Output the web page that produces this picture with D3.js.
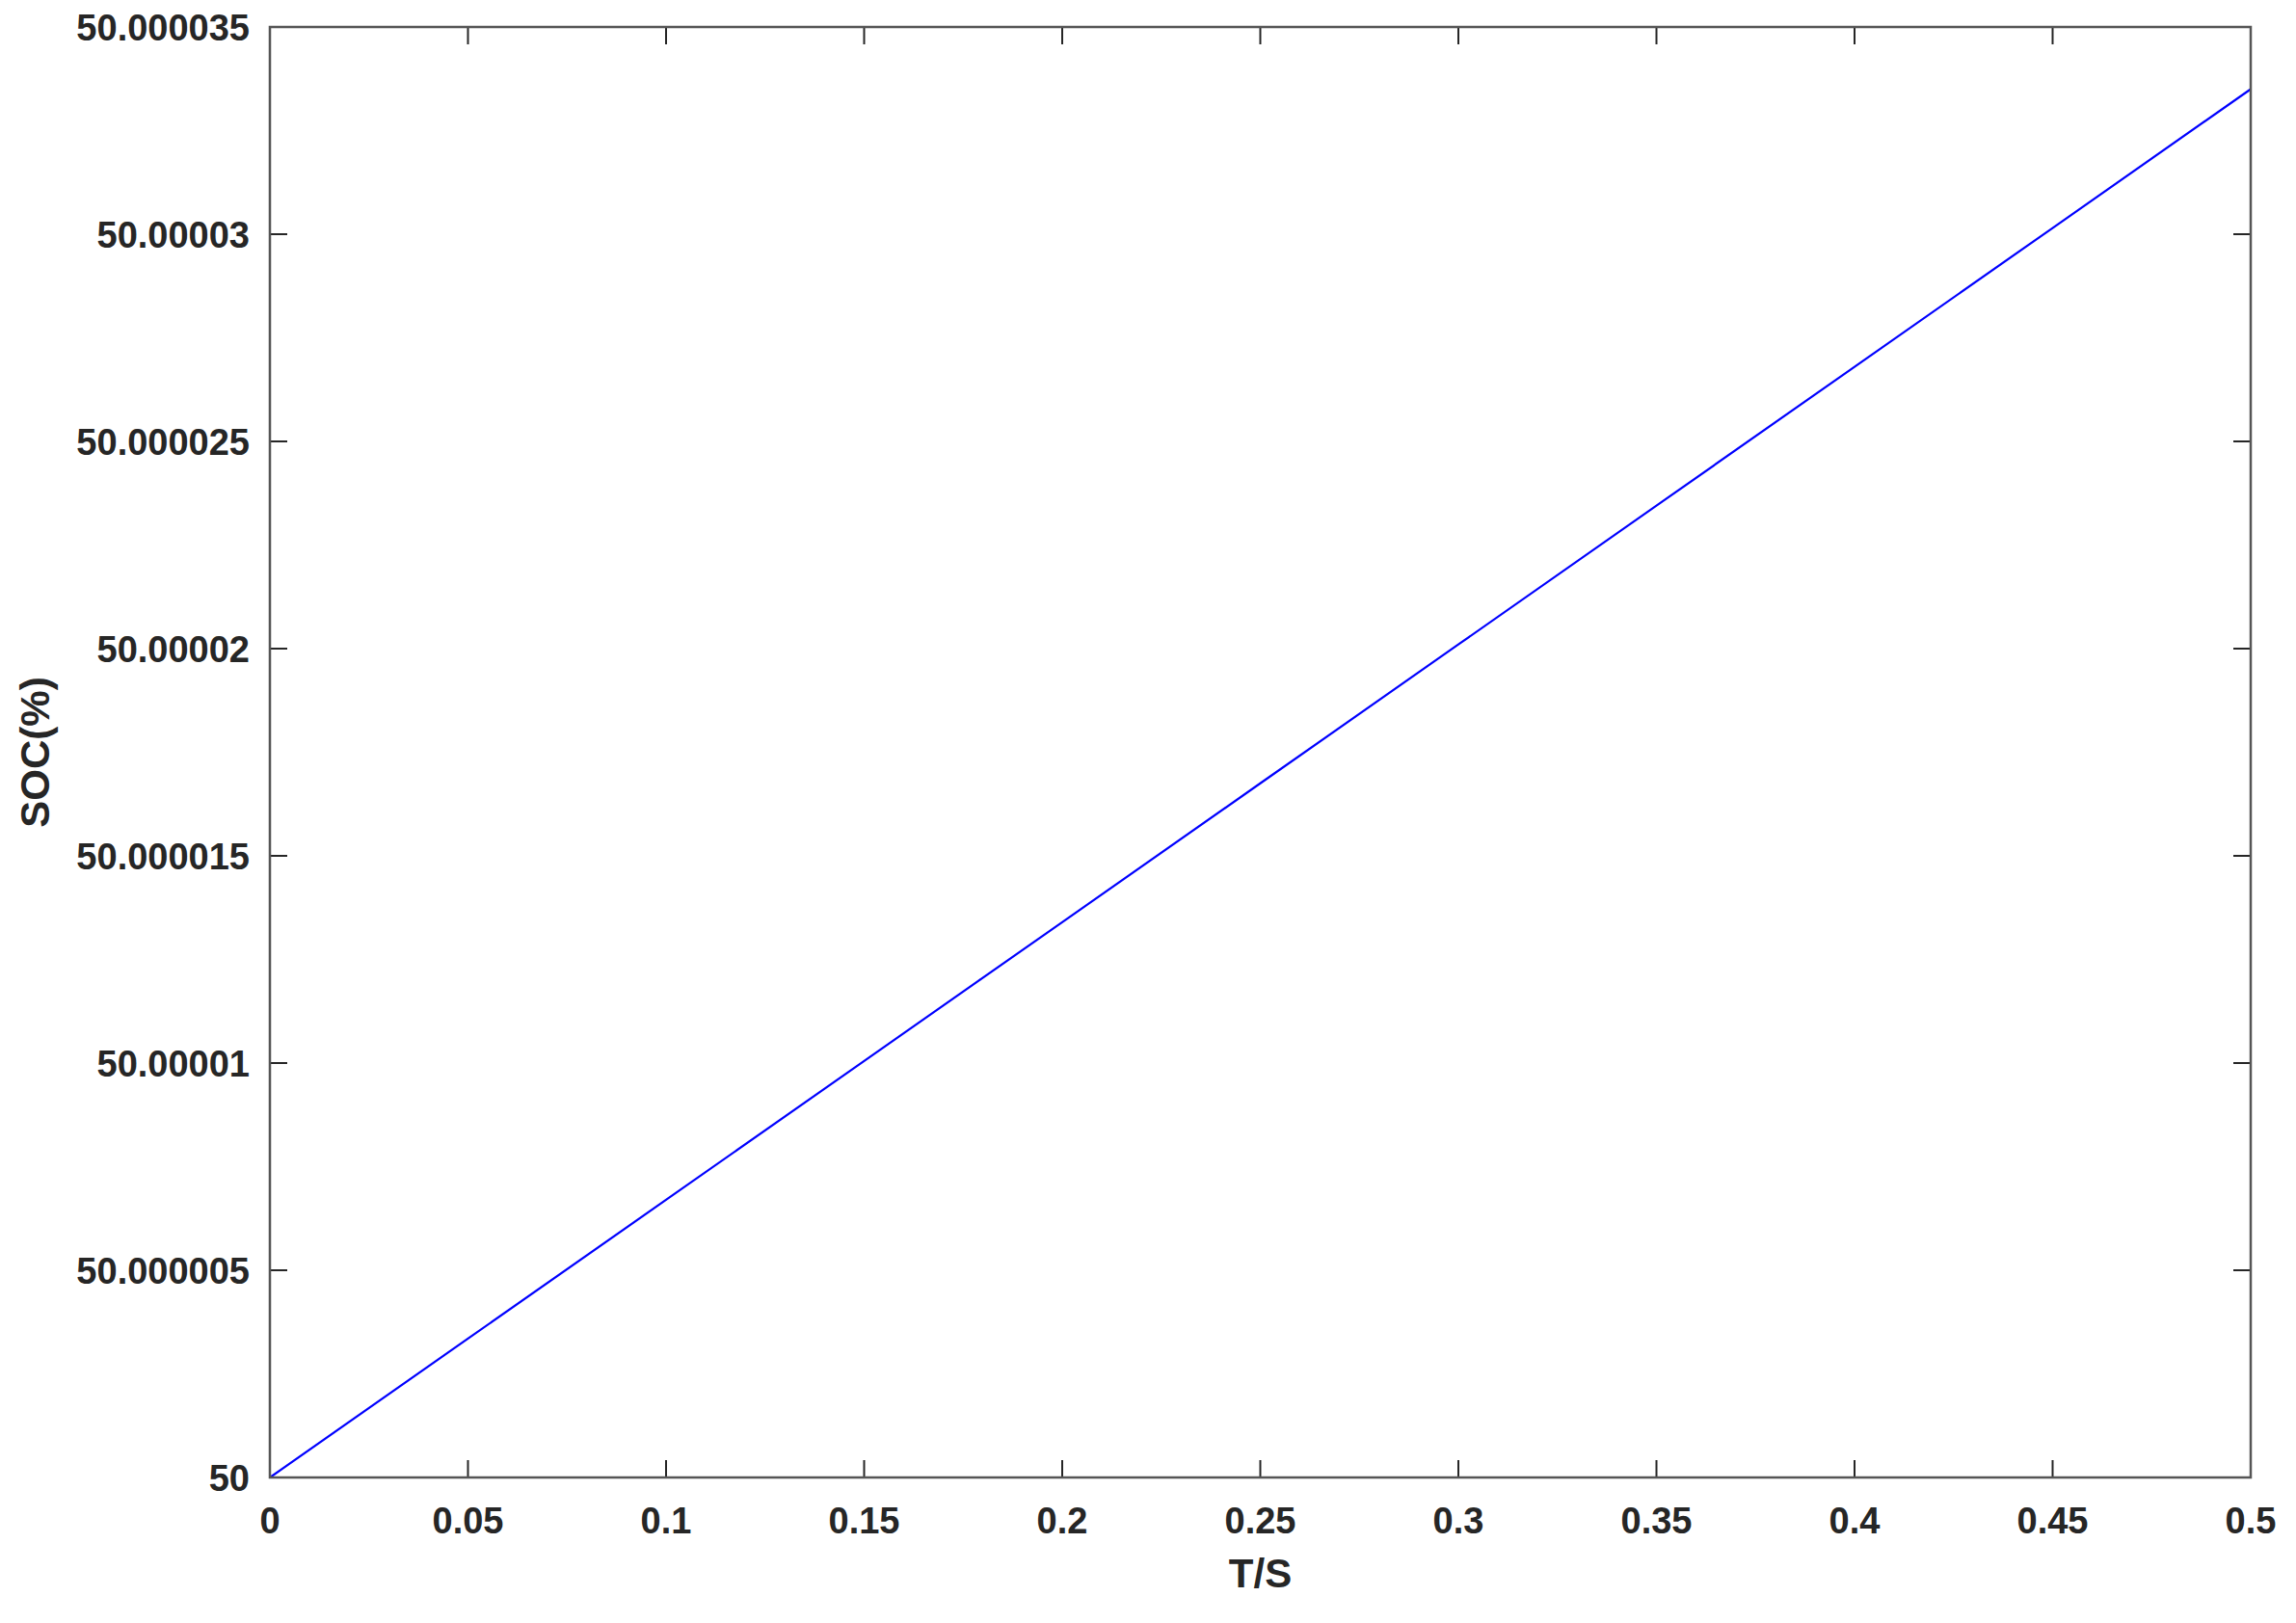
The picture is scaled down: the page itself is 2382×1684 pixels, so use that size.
<!DOCTYPE html>
<html>
<head>
<meta charset="utf-8">
<script src="https://cdn.jsdelivr.net/npm/d3@7"></script>
<style>
  body { margin: 0; background: #fff; }
  text { font-family: "Liberation Sans", Arial, sans-serif; font-weight: bold; fill: #262626; }
</style>
</head>
<body>
<div id="chart"></div>
<script>
// time (s) and SOC (%)
let time = [0, 0.05, 0.1, 0.15, 0.2, 0.25, 0.3, 0.35, 0.4, 0.45, 0.5]
let soc = [50, 50.00000335, 50.0000067, 50.00001005, 50.0000134, 50.00001675,
  50.0000201, 50.00002345, 50.0000268, 50.00003015, 50.0000335]

let xTicks = [0, 0.05, 0.1, 0.15, 0.2, 0.25, 0.3, 0.35, 0.4, 0.45, 0.5]
let xTickLabels = ['0', '0.05', '0.1', '0.15', '0.2', '0.25', '0.3', '0.35', '0.4', '0.45', '0.5']
let yTicks = [50, 50.000005, 50.00001, 50.000015, 50.00002, 50.000025, 50.00003, 50.000035]
let yTickLabels = ['50', '50.000005', '50.00001', '50.000015', '50.00002', '50.000025', '50.00003', '50.000035']

let width = 2382, height = 1684
let margin = { top: 28, right: 47, bottom: 151, left: 280 }
let plot_width = width - margin.left - margin.right
let plot_height = height - margin.top - margin.bottom

let svg = d3.select('#chart').append('svg')
  .attr('width', width)
  .attr('height', height)

let g = svg.append('g')
  .attr('transform', `translate(${margin.left},${margin.top})`)

let xScale = d3.scaleLinear().domain([0, 0.5]).range([0, plot_width])
let yScale = d3.scaleLinear().domain([50, 50.000035]).range([plot_height, 0])

let tickLen = 18
let fontSize = 38
let titleSize = 42

// ticks on all four sides, pointing inward
let tickColor = '#262626'
xTicks.forEach((t) => {
  let x = xScale(t)
  g.append('line').attr('x1', x).attr('x2', x).attr('y1', plot_height).attr('y2', plot_height - tickLen)
    .attr('stroke', tickColor).attr('stroke-width', 2)
  g.append('line').attr('x1', x).attr('x2', x).attr('y1', 0).attr('y2', tickLen)
    .attr('stroke', tickColor).attr('stroke-width', 2)
})
yTicks.forEach((t) => {
  let y = yScale(t)
  g.append('line').attr('x1', 0).attr('x2', tickLen).attr('y1', y).attr('y2', y)
    .attr('stroke', tickColor).attr('stroke-width', 2)
  g.append('line').attr('x1', plot_width).attr('x2', plot_width - tickLen).attr('y1', y).attr('y2', y)
    .attr('stroke', tickColor).attr('stroke-width', 2)
})

// tick labels
g.selectAll('.xlabel')
  .data(xTicks)
  .enter()
  .append('text')
  .attr('class', 'xlabel')
  .attr('x', (d) => xScale(d))
  .attr('y', plot_height + 58)
  .attr('text-anchor', 'middle')
  .attr('font-size', fontSize + 'px')
  .text((d, i) => xTickLabels[i])

g.selectAll('.ylabel')
  .data(yTicks)
  .enter()
  .append('text')
  .attr('class', 'ylabel')
  .attr('x', -21)
  .attr('y', (d) => yScale(d))
  .attr('dy', '0.36em')
  .attr('text-anchor', 'end')
  .attr('font-size', fontSize + 'px')
  .text((d, i) => yTickLabels[i])

// data line
let line = d3.line()
  .x((d, i) => xScale(time[i]))
  .y((d) => yScale(d))

g.append('path')
  .datum(soc)
  .attr('d', line)
  .attr('fill', 'none')
  .attr('stroke', '#0000ff')
  .attr('stroke-width', 2.2)

// frame
g.append('rect')
  .attr('width', plot_width)
  .attr('height', plot_height)
  .attr('fill', 'none')
  .attr('stroke', '#555')
  .attr('stroke-width', 2.5)

// axis titles
g.append('text')
  .attr('x', plot_width / 2)
  .attr('y', plot_height + 114)
  .attr('text-anchor', 'middle')
  .attr('font-size', titleSize + 'px')
  .text('T/S')

g.append('text')
  .attr('transform', `translate(${-229},${plot_height / 2}) rotate(-90)`)
  .attr('text-anchor', 'middle')
  .attr('font-size', titleSize + 'px')
  .text('SOC(%)')
</script>
</body>
</html>
